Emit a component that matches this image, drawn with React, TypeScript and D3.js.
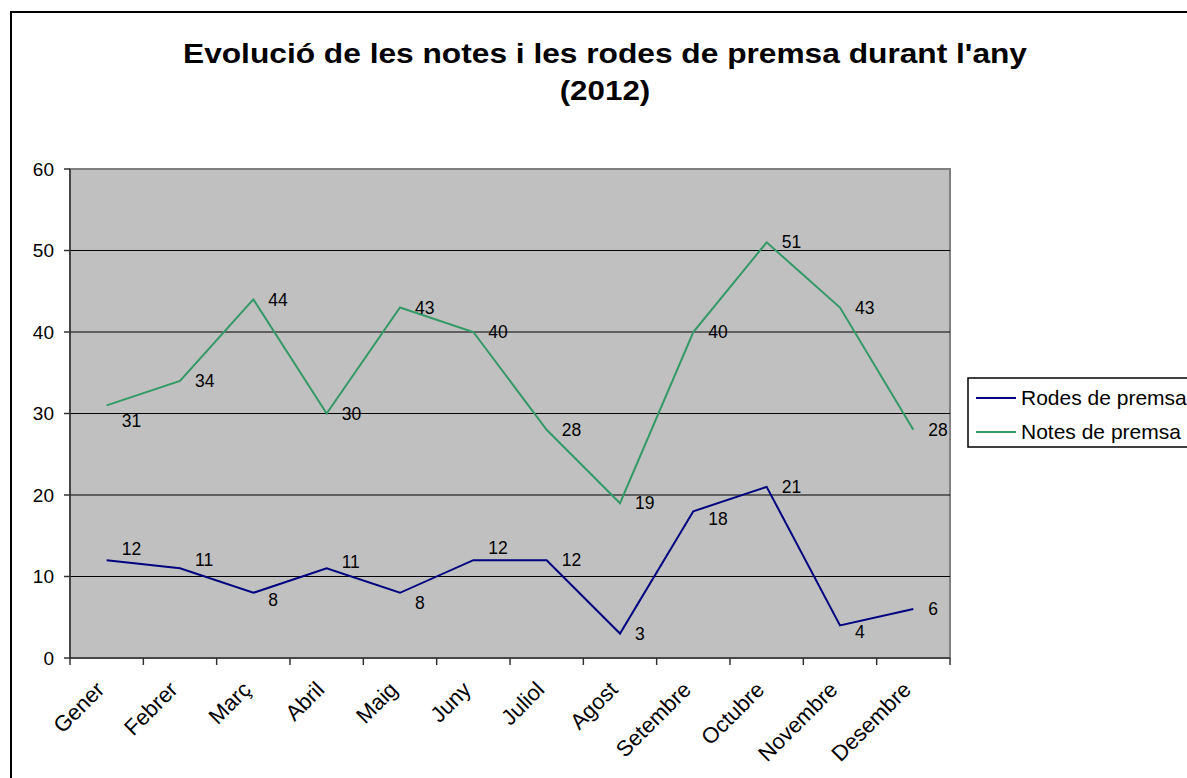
import React from 'react';
import * as d3 from 'd3';

// data
const months = ['Gener', 'Febrer', 'Març', 'Abril', 'Maig', 'Juny', 'Juliol', 'Agost', 'Setembre', 'Octubre', 'Novembre', 'Desembre'];
const rodesValues = [12, 11, 8, 11, 8, 12, 12, 3, 18, 21, 4, 6];
const notesValues = [31, 34, 44, 30, 43, 40, 28, 19, 40, 51, 43, 28];
const yTicks = [0, 10, 20, 30, 40, 50, 60];

// hand-nudged label placement (vertical shift in px), like the dragged labels in the original
const rodesLabelNudge = [-11, -8, 7, -6, 10, -12, 0, 0, 8, 0, 6, 0];
const notesLabelNudge = [16, 0, 0, 0, 0, 0, 0, 0, 0, 0, 0, 0];

const series = [
  { name: 'Rodes de premsa', values: rodesValues, color: '#000080', nudge: rodesLabelNudge },
  { name: 'Notes de premsa', values: notesValues, color: '#339966', nudge: notesLabelNudge },
];

const WIDTH = 1187;
const HEIGHT = 778;
const FONT = 'Arial, "Liberation Sans", sans-serif';

export default function App() {
  const plot = { left: 70, top: 169, right: 950, bottom: 658 };

  const x = d3.scaleBand<string>()
    .domain(months)
    .range([plot.left, plot.right]);

  const y = d3.scaleLinear()
    .domain([0, 60])
    .range([plot.bottom, plot.top]);

  const cx = (m: string) => (x(m) as number) + x.bandwidth() / 2;

  const line = d3.line<number>()
    .x((_, i) => cx(months[i]))
    .y(d => y(d));

  // tick boundaries between categories
  const xTicks = months.map(m => x(m) as number).concat([plot.right]);

  return (
    <svg width={WIDTH} height={HEIGHT} style={{ position: 'absolute', left: 0, top: 0 }} fontFamily={FONT}>
      <rect x={0} y={0} width={WIDTH} height={HEIGHT} fill="#fff" />
      {/* outer chart border */}
      <rect x={11} y={12} width={WIDTH + 20} height={HEIGHT + 20} fill="none" stroke="#000" strokeWidth={2} />

      {/* title */}
      <text x={183} y={63} fontSize={28} fontWeight="bold" textLength={844} lengthAdjust="spacingAndGlyphs">
        Evolució de les notes i les rodes de premsa durant l'any
      </text>
      <text x={605} y={100} textAnchor="middle" fontSize={28} fontWeight="bold"
        transform="translate(605,0) scale(1.12,1) translate(-605,0)">(2012)</text>

      {/* plot area */}
      <rect x={plot.left} y={plot.top} width={plot.right - plot.left} height={plot.bottom - plot.top}
        fill="#C0C0C0" stroke="#808080" strokeWidth={2} />

      {/* gridlines */}
      {yTicks.filter(t => t > 0 && t < 60).map(t => (
        <line key={'g' + t} x1={plot.left} x2={plot.right} y1={y(t)} y2={y(t)} stroke="#000" strokeWidth={1} />
      ))}

      {/* y axis */}
      <line x1={plot.left} x2={plot.left} y1={plot.top} y2={plot.bottom} stroke="#333" strokeWidth={1.5} />
      {yTicks.map(t => (
        <g key={'y' + t}>
          <line x1={plot.left - 6} x2={plot.left} y1={y(t)} y2={y(t)} stroke="#333" strokeWidth={1.5} />
          <text x={54} y={y(t)} dy="0.35em" textAnchor="end" fontSize={19}>{t}</text>
        </g>
      ))}

      {/* x axis */}
      <line x1={plot.left} x2={plot.right} y1={plot.bottom} y2={plot.bottom} stroke="#333" strokeWidth={1.5} />
      {xTicks.map((t, i) => (
        <line key={'xt' + i} x1={t} x2={t} y1={plot.bottom} y2={plot.bottom + 7} stroke="#333" strokeWidth={1.5} />
      ))}
      {months.map(m => (
        <text key={'xl' + m} transform={`translate(${cx(m) - 1},${plot.bottom + 33}) rotate(-45)`}
          textAnchor="end" fontSize={22}>{m}</text>
      ))}

      {/* series lines and labels */}
      {series.map(s => (
        <g key={s.name}>
          <path d={line(s.values) || ''} fill="none" stroke={s.color} strokeWidth={2} />
          {s.values.map((v, i) => (
            <text key={i} x={cx(months[i]) + 15} y={y(v) + s.nudge[i]} dy="0.35em" fontSize={17.5}>{v}</text>
          ))}
        </g>
      ))}

      {/* legend */}
      <rect x={968} y={378} width={WIDTH} height={69} fill="#fff" stroke="#000" strokeWidth={1.5} />
      {series.map((s, i) => (
        <g key={'lg' + s.name} transform={`translate(976,${398 + i * 34})`}>
          <line x1={0} x2={40} y1={0} y2={0} stroke={s.color} strokeWidth={2} />
          <text x={45} y={0} dy="0.35em" fontSize={21}>{s.name}</text>
        </g>
      ))}
    </svg>
  );
}
